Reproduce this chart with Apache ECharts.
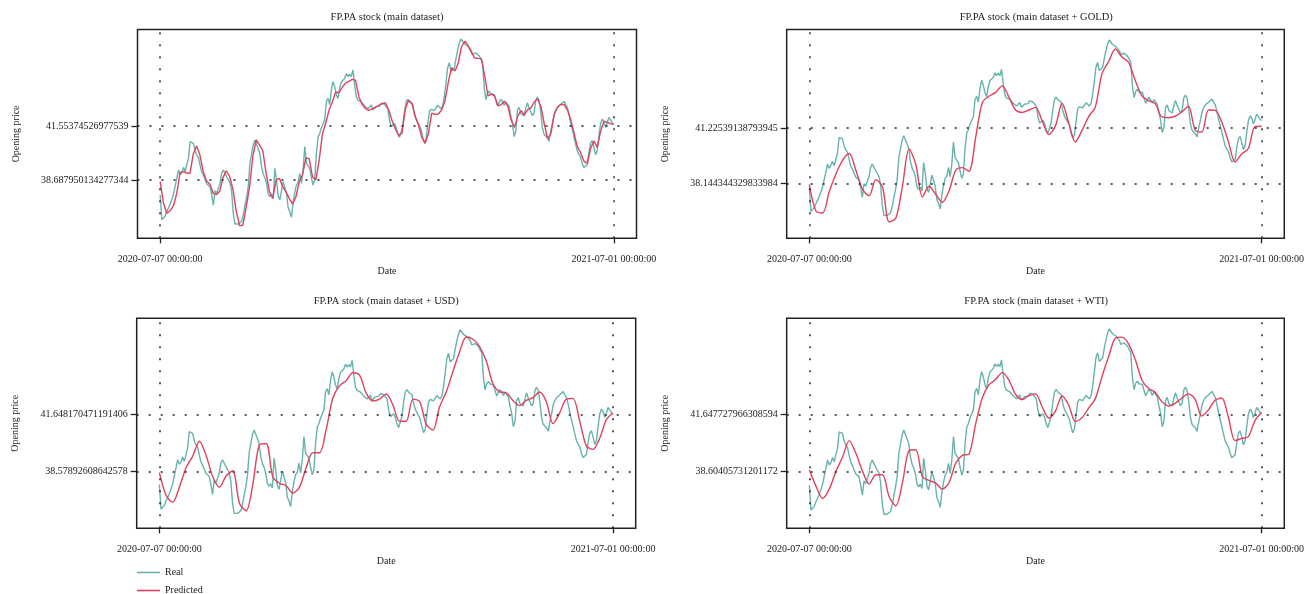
<!DOCTYPE html>
<html><head><meta charset="utf-8">
<script src="https://cdn.jsdelivr.net/npm/echarts@6/dist/echarts.min.js"></script>
<style>html,body{margin:0;padding:0;background:#fff}#c{width:1307px;height:594px}</style>
</head><body><div id="c"></div>
<script>
const titles = ['FP.PA stock (main dataset)', 'FP.PA stock (main dataset + GOLD)', 'FP.PA stock (main dataset + USD)', 'FP.PA stock (main dataset + WTI)'];
const xTickLabels = ['2020-07-07 00:00:00', '2021-07-01 00:00:00'];
const yTickLabels1 = ['38.687950134277344', '41.55374526977539'];
const yTickLabels2 = ['38.144344329833984', '41.22539138793945'];
const yTickLabels3 = ['38.57892608642578', '41.648170471191406'];
const yTickLabels4 = ['38.60405731201172', '41.647727966308594'];

const real = [
37.89,36.57,36.53,36.78,37.01,37.20,37.41,37.66,37.94,38.03,
38.78,39.22,38.97,39.08,39.36,39.13,39.13,39.84,40.72,40.63,
40.63,40.24,40.01,39.89,39.48,39.11,38.94,38.71,38.49,38.39,
38.33,37.89,37.36,38.12,37.98,37.98,38.51,39.04,39.22,39.25,
38.86,38.69,38.55,38.07,36.92,36.35,36.30,36.35,36.42,36.49,
36.83,37.33,37.77,38.33,39.57,39.57,40.55,40.81,40.58,40.49,
40.10,39.40,39.01,38.81,38.51,37.94,37.80,37.94,37.71,39.31,
38.69,37.84,37.63,37.71,38.60,38.30,37.98,37.22,37.01,36.71,
37.49,38.05,38.42,38.55,39.04,38.51,39.22,40.46,39.57,39.54,
39.31,38.83,38.42,38.69,40.10,40.95,41.16,41.45,41.52,41.87,
42.84,43.02,42.69,43.46,43.92,43.64,43.22,43.00,43.55,43.89,
43.87,44.07,44.33,44.17,44.31,44.17,44.53,43.73,43.11,42.93,
42.92,42.84,42.76,42.63,42.54,42.47,42.40,42.67,42.40,42.33,
42.58,42.65,42.61,42.76,42.76,42.70,42.61,42.47,41.87,41.52,
41.61,41.68,
41.48,41.13,40.94,41.00,41.55,42.30,42.84,42.97,42.83,42.81,
42.69,42.21,41.91,41.82,41.57,41.38,40.97,40.67,40.85,41.62,
42.31,42.44,42.35,42.37,42.30,42.65,42.72,42.47,42.61,43.13,
43.85,44.65,44.91,44.45,44.38,44.63,45.13,45.57,45.94,46.17,
46.10,45.92,45.85,45.80,45.82,45.59,45.36,45.32,45.43,45.43,
45.27,45.18,44.93,43.62,42.95,43.29,43.41,43.27,43.25,43.23,
43.15,42.63,42.67,42.97,42.86,42.65,
42.83,42.90,42.58,42.09,41.70,40.99,41.25,42.40,42.54,42.21,
42.30,42.09,42.49,42.79,42.51,42.51,42.10,42.23,42.93,43.09,
42.92,42.31,41.48,41.11,41.02,40.93,40.74,41.25,41.66,42.14,
42.38,42.53,42.61,42.69,42.76,42.86,42.83,42.54,42.19,41.73,
41.36,40.99,40.60,40.24,40.05,39.91,39.57,39.34,39.36,39.50,
40.14,40.65,40.77,40.44,40.03,40.24,40.99,41.66,41.92,41.80,
41.48,41.71,42.01,41.89,41.73,41.66
];

const pred1 = [
38.60,37.45,36.92,37.06,37.31,37.98,39.08,39.13,39.06,39.04,
40.07,40.49,40.01,39.13,38.63,38.47,37.98,37.91,38.10,38.83,
39.18,38.86,38.16,37.01,36.25,36.30,37.27,38.33,39.96,40.81,
40.55,40.24,39.04,38.07,37.71,
38.69,38.78,38.33,38.05,37.70,37.41,37.80,38.60,38.97,39.86,
39.82,38.86,38.69,39.71,41.13,41.71,42.40,42.83,43.36,43.31,
43.61,43.84,43.92,44.03,43.98,43.11,42.70,42.47,42.38,42.46,
42.56,42.65,42.74,42.79,42.42,41.85,
41.41,41.06,41.16,42.44,42.92,42.77,42.07,41.62,40.95,40.63,
41.16,42.24,42.17,42.19,42.40,42.88,43.87,44.65,44.47,44.88,
45.76,46.05,45.82,45.46,45.16,45.14,45.13,44.22,43.15,43.25,
43.15,42.63,42.69,
42.88,42.60,41.87,41.48,42.08,42.37,42.14,42.42,42.53,42.84,
42.99,42.58,41.66,40.88,41.16,42.17,42.56,42.70,42.69,42.40,
41.89,41.16,40.44,40.14,39.68,39.57,40.37,40.76,40.42,41.27,
41.80,41.75,41.68,41.64
];
const pred2 = [
38.09,36.59,36.48,37.68,38.67,39.43,39.81,38.87,37.81,37.45,
38.35,37.94,35.98,36.18,37.98,40.07,39.21,37.38,37.98,37.53,
37.08,37.71,38.87,39.02,38.82,40.70,42.66,43.02,43.24,43.60,
42.98,42.25,42.12,42.25,42.40,41.65,40.87,41.36,42.63,41.52,
40.46,41.11,41.88,42.42,44.29,44.96,45.67,45.22,44.92,43.90,
43.04,42.78,42.61,41.86,41.82,41.90,42.14,42.46,41.13,41.02,
42.25,42.23,41.58,40.48,39.34,39.79,40.09,41.32,41.34
];
const pred3 = [
38.53,37.32,36.95,37.75,38.79,39.41,40.21,39.45,38.31,37.75,
38.35,38.63,36.89,36.49,37.89,40.02,40.09,38.31,37.96,37.83,
37.43,37.75,38.79,39.59,39.59,40.83,42.52,43.17,43.44,43.87,
43.74,42.78,42.36,42.46,42.73,42.15,41.28,41.28,42.46,42.34,
41.12,40.81,42.04,42.84,43.94,44.98,45.78,45.66,45.27,44.50,
43.28,42.85,42.80,42.38,42.11,42.39,42.54,42.84,42.32,41.15,
41.72,42.46,42.50,41.29,39.96,39.77,40.37,41.36,41.72
];
const pred4 = [
38.69,37.84,37.19,37.68,38.62,39.38,40.25,39.58,38.62,37.95,
38.44,38.44,37.28,36.80,38.02,39.72,39.77,38.34,38.14,38.00,
37.68,38.02,39.05,39.47,39.54,41.13,42.51,43.21,43.49,43.86,
43.47,42.71,42.43,42.64,42.73,42.05,41.45,41.82,42.62,42.13,
41.26,41.47,41.98,42.48,43.65,44.71,45.68,45.74,45.38,44.55,
43.47,43.01,42.82,42.32,42.09,42.23,42.50,42.73,42.44,41.56,
41.88,42.39,42.51,41.49,40.25,40.37,40.46,41.31,41.74
];

const startTs = Date.UTC(2020, 6, 7), endTs = Date.UTC(2021, 6, 1);
const span = endTs - startTs;
function pairs(arr) { return arr.map((v, i) => [startTs + i * span / (arr.length - 1), v]); }

const REAL = '#68b3ac', PRED = '#e2405c', INK = '#222';
const FONT = 'Liberation Serif';
const gridsPos = [
  {left: 137.5, top: 29.5, width: 499, height: 208.8},
  {left: 786.7, top: 29.5, width: 499, height: 208.8},
  {left: 136.7, top: 318.3, width: 499, height: 210},
  {left: 786.7, top: 318.3, width: 499, height: 210}
];
const titleTops = [12, 12, 296, 296];
const yRanges = [[35.594, 46.675], [35.063, 46.760], [35.552, 46.781], [35.603, 46.738]];
const yLabels = [yTickLabels1, yTickLabels2, yTickLabels3, yTickLabels4];
const preds = [pred1, pred2, pred3, pred4];
const predSmooth = [false, 0.3, 0.3, 0.3];

const legendText = {fontSize: 10, fontFamily: FONT, color: INK};
const option = {
  animation: false,
  backgroundColor: '#fff',
  title: titles.map((t, i) => ({
    text: t, left: gridsPos[i].left + gridsPos[i].width / 2, top: titleTops[i], textAlign: 'center', padding: 0,
    textStyle: {fontSize: 10.5, fontWeight: 'normal', fontFamily: FONT, color: INK}
  })),
  legend: [
    {left: 137, top: 567.5, itemWidth: 23, itemHeight: 1.6, icon: 'rect', padding: 0, data: ['Real'], textStyle: legendText},
    {left: 137, top: 585.5, itemWidth: 23, itemHeight: 1.6, icon: 'rect', padding: 0, data: ['Predicted'], textStyle: legendText}
  ],
  grid: gridsPos.map(g => Object.assign({show: true, borderColor: INK, borderWidth: 1.5, backgroundColor: 'transparent'}, g)),
  xAxis: gridsPos.map((g, i) => ({
    type: 'value', gridIndex: i, min: startTs - 0.05 * span, max: endTs + 0.05 * span,
    axisLine: {show: false}, splitLine: {show: false},
    axisTick: {show: true, customValues: [startTs, endTs], length: 5, lineStyle: {color: INK, width: 1.3}},
    axisLabel: {customValues: [startTs, endTs], formatter: v => (v < startTs + span / 2 ? xTickLabels[0] : xTickLabels[1]),
      margin: 16, fontSize: 10, fontFamily: FONT, color: INK},
    name: 'Date', nameLocation: 'middle', nameGap: 28,
    nameTextStyle: {fontSize: 10, fontFamily: FONT, color: INK}
  })),
  yAxis: gridsPos.map((g, i) => {
    const vals = yLabels[i].map(Number);
    return {
      type: 'value', gridIndex: i, min: yRanges[i][0], max: yRanges[i][1],
      axisLine: {show: false}, splitLine: {show: false},
      axisTick: {show: true, customValues: vals, length: 6, lineStyle: {color: INK, width: 1.3}},
      axisLabel: {customValues: vals, formatter: v => {
        let best = 0; for (let k = 1; k < vals.length; k++) if (Math.abs(vals[k] - v) < Math.abs(vals[best] - v)) best = k;
        return yLabels[i][best];
      }, margin: 9, fontSize: 10, fontFamily: FONT, color: INK},
      name: 'Opening price', nameLocation: 'middle', nameGap: 116, nameRotate: 90,
      nameTextStyle: {fontSize: 10, fontFamily: FONT, color: INK}
    };
  }),
  series: []
};

gridsPos.forEach((g, i) => {
  const vals = yLabels[i].map(Number);
  option.series.push({
    type: 'line', name: 'Real', xAxisIndex: i, yAxisIndex: i, data: pairs(real),
    symbol: 'none', showSymbol: false, lineStyle: {width: 1.4, color: REAL}, itemStyle: {color: REAL}, z: 2,
    markLine: {
      silent: true, symbol: ['none', 'none'], label: {show: false},
      lineStyle: {type: [2, 10], color: INK, width: 1.5},
      data: [{yAxis: vals[0]}, {yAxis: vals[1]}, {xAxis: startTs}, {xAxis: endTs}]
    }
  });
  option.series.push({
    type: 'line', name: 'Predicted', xAxisIndex: i, yAxisIndex: i, data: pairs(preds[i]), smooth: predSmooth[i],
    symbol: 'none', showSymbol: false, lineStyle: {width: 1.4, color: PRED}, itemStyle: {color: PRED}, z: 3
  });
});

const chart = echarts.init(document.getElementById('c'));
chart.setOption(option);
</script></body></html>
